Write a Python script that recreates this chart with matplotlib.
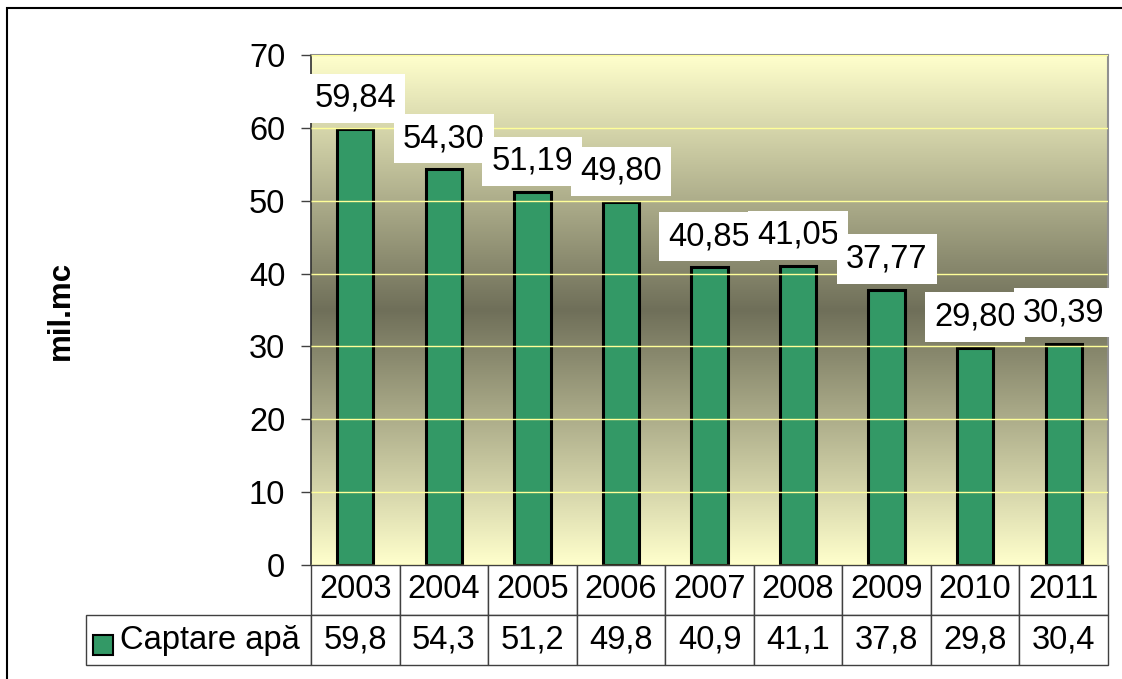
import matplotlib
matplotlib.use("Agg")
import matplotlib.pyplot as plt
import numpy as np
from matplotlib.colors import LinearSegmentedColormap
from matplotlib.patches import Rectangle
from decimal import Decimal, ROUND_HALF_UP

plt.rcParams['font.family'] = ['Liberation Sans', 'DejaVu Sans']

years = ['2003', '2004', '2005', '2006', '2007', '2008', '2009', '2010', '2011']
values = [59.84, 54.30, 51.19, 49.80, 40.85, 41.05, 37.77, 29.80, 30.39]
series_name = 'Captare apă'
y_label = 'mil.mc'
y_ticks = [0, 10, 20, 30, 40, 50, 60, 70]

FS = 23.5
W, H = 1122, 679
fig = plt.figure(figsize=(W / 100, H / 100), dpi=100)
ax_l, ax_r, ax_t, ax_b = 311, 1108, 55, 565
ax = fig.add_axes([ax_l / W, 1 - ax_b / H, (ax_r - ax_l) / W, (ax_b - ax_t) / H])

x = np.arange(len(years))
ax.set_xlim(-0.5, len(years) - 0.5)
ax.set_ylim(0, 70)

# gradient background
cmap = LinearSegmentedColormap.from_list(
    'bg', [(0.0, '#ffffcc'), (0.5, '#6f6f59'), (1.0, '#ffffcc')])
grad = np.linspace(0, 1, 512).reshape(-1, 1)
ax.imshow(grad, extent=[-0.5, len(years) - 0.5, 0, 70], aspect='auto',
          cmap=cmap, origin='lower', zorder=0, interpolation='bicubic')

ax.set_yticks(y_ticks)
ax.yaxis.grid(True, color='#ffff99', linewidth=1.0, zorder=1)
ax.set_axisbelow(False)
for gl in ax.get_ygridlines():
    gl.set_zorder(1)

ax.bar(x, values, width=0.41, color='#339966', edgecolor='black',
       linewidth=2.2, zorder=2)

for xi, v in zip(x, values):
    ax.annotate(f"{v:.2f}".replace('.', ','), xy=(xi, v), xytext=(0, 11),
                textcoords='offset points', ha='center', va='bottom',
                fontsize=FS, zorder=5,
                bbox=dict(boxstyle='square,pad=0.28', fc='white', ec='none'))

ax.tick_params(axis='y', length=7.5, width=1, labelsize=FS, pad=11,
               color='#404040')
ax.tick_params(axis='x', length=0, labelbottom=False)
ax.spines['left'].set_color('#303030')
ax.spines['left'].set_linewidth(1.2)
ax.spines['top'].set_color('#909090')
ax.spines['right'].set_color('#909090')
ax.spines['top'].set_linewidth(1.5)
ax.spines['right'].set_linewidth(1.5)
ax.spines['bottom'].set_visible(False)

ax.set_ylabel(y_label, fontsize=22.5, fontweight='bold', labelpad=0)
ax.yaxis.set_label_coords((76 - ax_l) / (ax_r - ax_l), 0.5)

# data table
def r1(v):
    return str(Decimal(str(v)).quantize(Decimal('0.1'), rounding=ROUND_HALF_UP)).replace('.', ',')

aw = ax_r - ax_l
ah = ax_b - ax_t
tbl_left = 86
tbl_bot = 665
first_w = ax_l - tbl_left
col_w = aw / len(years)
tbl = ax.table(cellText=[[''] + [r1(v) for v in values]],
               colLabels=[''] + years,
               colWidths=[first_w] + [col_w] * len(years),
               cellLoc='center',
               bbox=[(tbl_left - ax_l) / aw, -(tbl_bot - ax_b) / ah,
                     (ax_r - tbl_left) / aw, (tbl_bot - ax_b) / ah])
tbl.auto_set_font_size(False)
tbl.set_fontsize(FS)
for (r, c), cell in tbl.get_celld().items():
    cell.set_edgecolor('#404040')
    cell.set_linewidth(1.0)
    cell.set_facecolor('white')
tbl[0, 0].visible_edges = 'open'

# legend key inside table
ax.add_patch(Rectangle(((93 - ax_l) / aw, -(655 - ax_b) / ah), 20 / aw, 20 / ah,
                       transform=ax.transAxes, facecolor='#339966',
                       edgecolor='black', linewidth=1.5, clip_on=False, zorder=6))
ax.text((120 - ax_l) / aw, -(641 - ax_b) / ah, series_name, transform=ax.transAxes,
        ha='left', va='center', fontsize=FS, zorder=6)

# outer chart frame
fig.patches.append(Rectangle((7 / W, -0.05), 1.2, 1 - 8 / H + 0.05,
                             transform=fig.transFigure, fill=False,
                             edgecolor='black', linewidth=1.5))

fig.savefig('out.png', dpi=100)
